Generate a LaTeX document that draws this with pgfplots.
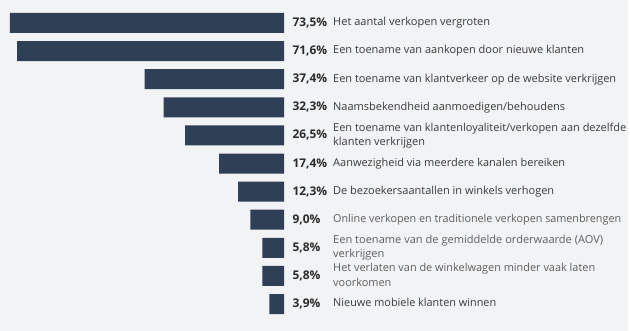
\documentclass[border=0pt]{standalone}
\usepackage{pgfplots}
\pgfplotsset{compat=1.18}
\usepackage{graphicx}
\usepackage{fontspec}
\setmainfont{Open Sans}
\definecolor{bg}{HTML}{F2F3F5}
\definecolor{barc}{HTML}{2F3F56}
\definecolor{pctc}{HTML}{2B2B2B}
\definecolor{txtc}{HTML}{3A3A3A}
\definecolor{txtlc}{HTML}{5E5E5E}
\newlength\labw
% #1 target width (bp) of longest line, #2 longest line, #3 full content
\newcommand\fitlab[3]{%
  \settowidth\labw{#2}%
  \pgfmathsetmacro\labf{(#1*1.00375)/\labw}%
  \scalebox{\labf}[1]{\begin{tabular}{@{}l@{}}#3\end{tabular}}}
\tikzset{
  pctlab/.style={anchor=west, xshift=5bp, text=pctc, font=\bfseries\fontsize{12}{14}\selectfont},
  lab/.style={anchor=west, xshift=49bp, inner xsep=0pt, text=txtc, font=\fontsize{11}{14.5}\selectfont},
  labl/.style={lab, text=txtlc}}
\begin{document}
\begin{tikzpicture}
\fill[bg] (0,0) rectangle (630bp,331bp);
\fill[white] (628bp,0) rectangle (630bp,331bp);
\begin{axis}[at={(0,0)}, anchor=south west, scale only axis,
  width=630bp, height=331bp,
  x dir=reverse, y dir=reverse,
  xmin=-92.81, xmax=76.18, ymin=-0.818, ymax=10.96,
  axis lines=none, xbar, bar width=20bp, clip=false]
\addplot[fill=barc, draw=none] coordinates {
(73.5,0) (71.6,1) (37.4,2) (32.3,3) (26.5,4) (17.4,5) (12.3,6) (9.0,7) (5.8,8) (5.8,9) (3.9,10)};
\node[pctlab] at (axis cs:0,0) {73,5\%};
\node[pctlab] at (axis cs:0,1) {71,6\%};
\node[pctlab] at (axis cs:0,2) {37,4\%};
\node[pctlab] at (axis cs:0,3) {32,3\%};
\node[pctlab] at (axis cs:0,4) {26,5\%};
\node[pctlab] at (axis cs:0,5) {17,4\%};
\node[pctlab] at (axis cs:0,6) {12,3\%};
\node[pctlab] at (axis cs:0,7) {9,0\%};
\node[pctlab] at (axis cs:0,8) {5,8\%};
\node[pctlab] at (axis cs:0,9) {5,8\%};
\node[pctlab] at (axis cs:0,10) {3,9\%};
\node[lab] at (axis cs:0,0) {\fitlab{157}{Het aantal verkopen vergroten}{Het aantal verkopen vergroten}};
\node[lab] at (axis cs:0,1) {\fitlab{251}{Een toename van aankopen door nieuwe klanten}{Een toename van aankopen door nieuwe klanten}};
\node[lab] at (axis cs:0,2) {\fitlab{283}{Een toename van klantverkeer op de website verkrijgen}{Een toename van klantverkeer op de website verkrijgen}};
\node[lab] at (axis cs:0,3) {\fitlab{232}{Naamsbekendheid aanmoedigen/behoudens}{Naamsbekendheid aanmoedigen/behoudens}};
\node[lab] at (axis cs:0,4) {\fitlab{293}{Een toename van klantenloyaliteit/verkopen aan dezelfde}{Een toename van klantenloyaliteit/verkopen aan dezelfde\\klanten verkrijgen}};
\node[lab] at (axis cs:0,5) {\fitlab{232}{Aanwezigheid via meerdere kanalen bereiken}{Aanwezigheid via meerdere kanalen bereiken}};
\node[lab] at (axis cs:0,6) {\fitlab{221}{De bezoekersaantallen in winkels verhogen}{De bezoekersaantallen in winkels verhogen}};
\node[labl] at (axis cs:0,7) {\fitlab{288}{Online verkopen en traditionele verkopen samenbrengen}{Online verkopen en traditionele verkopen samenbrengen}};
\node[labl] at (axis cs:0,8) {\fitlab{270}{Een toename van de gemiddelde orderwaarde (AOV)}{Een toename van de gemiddelde orderwaarde (AOV)\\verkrijgen}};
\node[labl] at (axis cs:0,9) {\fitlab{262}{Het verlaten van de winkelwagen minder vaak laten}{Het verlaten van de winkelwagen minder vaak laten\\voorkomen}};
\node[lab] at (axis cs:0,10) {\fitlab{163}{Nieuwe mobiele klanten winnen}{Nieuwe mobiele klanten winnen}};
\end{axis}
\end{tikzpicture}
\end{document}
